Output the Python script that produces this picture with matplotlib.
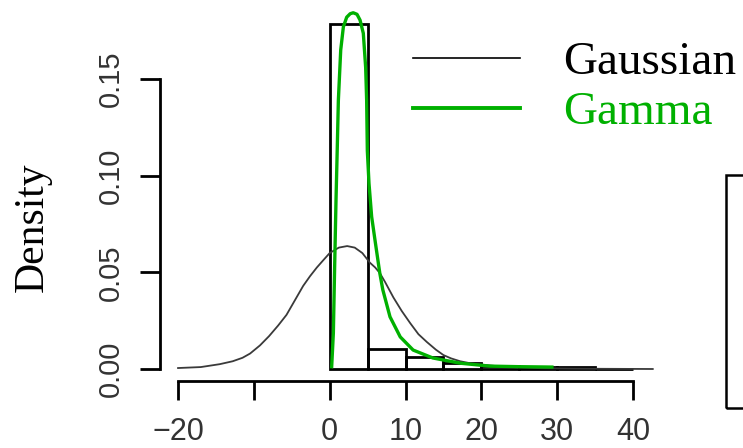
import matplotlib.pyplot as plt
from matplotlib.lines import Line2D
from matplotlib.patches import Rectangle

plt.rcParams['font.family'] = ['Liberation Sans', 'DejaVu Sans']

# histogram (bin left edges, densities)
bin_left = [0, 5, 10, 15, 20, 25, 30, 35]
bin_density = [0.1785, 0.0105, 0.0060, 0.0030, 0.0013, 0.0008, 0.0008, 0.0]

# fitted Gaussian density
gauss_x = [-20, -17, -14.5, -12.8, -11.5, -10.5, -9.2, -8, -6.8, -5.7, -4.6, -3.5, -2.6,
           -1.7, -0.8, 0, 1.2, 2.3, 3.3, 4.3, 5.3, 6.0, 6.6, 7.3, 8.4, 9.5, 10.6, 11.7,
           12.8, 14, 15, 16, 17.2, 18.5, 20.2, 22, 25, 28, 32, 36, 42.6]
gauss_y = [0.0005, 0.0010, 0.0025, 0.0040, 0.0058, 0.0080, 0.0122, 0.0170, 0.0225,
           0.0280, 0.0355, 0.0430, 0.0480, 0.0525, 0.0565, 0.0600, 0.0628, 0.0636,
           0.0628, 0.0600, 0.0550, 0.0525, 0.0497, 0.0450, 0.0370, 0.0300, 0.0238,
           0.0180, 0.0140, 0.0100, 0.0072, 0.0055, 0.0040, 0.0030, 0.0022, 0.0015,
           0.0008, 0.0004, 0.0002, 0.0001, 0.0]

# fitted Gamma density
gamma_x = [0.26, 0.48, 0.65, 0.83, 1.0, 1.14, 1.45, 1.8, 2.24, 2.7, 3.1, 3.6, 4.0, 4.43,
           4.74, 4.87, 4.96, 5.18, 5.53, 5.97, 6.6, 7.0, 7.95, 9.3, 11.0, 13.6, 17.2,
           21.1, 25.0, 29.3]
gamma_y = [0.0012, 0.0186, 0.053, 0.0874, 0.115, 0.139, 0.165, 0.177, 0.182, 0.1838,
           0.1843, 0.1835, 0.1805, 0.1737, 0.156, 0.139, 0.113, 0.096, 0.0788, 0.0667,
           0.0497, 0.041, 0.027, 0.0166, 0.0098, 0.0057, 0.003, 0.0015, 0.0012, 0.0010]

x_ticks = [-20, -10, 0, 10, 20, 30, 40]
x_labels = ['\u221220', '', '0', '10', '20', '30', '40']
y_ticks = [0.0, 0.05, 0.10, 0.15]
y_labels = ['0.00', '0.05', '0.10', '0.15']

GREEN = '#00b000'
W, H = 743, 448

fig = plt.figure(figsize=(W / 100, H / 100), dpi=100)
ax = fig.add_axes([0, 0, 1, 1])
ax.patch.set_visible(False)
ax.set_xlim(-43.48, 54.5)
ax.set_ylim(-0.04087, 0.19090)

ax.bar(bin_left, bin_density, width=5, align='edge', fill=False,
       edgecolor='black', linewidth=2)
ax.plot(gauss_x, gauss_y, color='#3a3a3a', lw=1.3, solid_joinstyle='round')
ax.plot(gamma_x, gamma_y, color=GREEN, lw=2.4, solid_joinstyle='round')

# R-style detached axes
for s in ['top', 'right']:
    ax.spines[s].set_visible(False)
ax.spines['left'].set_position(('data', -22.38))
ax.spines['left'].set_bounds(0, 0.15)
ax.spines['bottom'].set_position(('data', -0.0062))
ax.spines['bottom'].set_bounds(-20, 40)
for s in ['left', 'bottom']:
    ax.spines[s].set_linewidth(2)

ax.set_xticks(x_ticks, x_labels)
ax.set_yticks(y_ticks, y_labels)
ax.tick_params(axis='x', length=13.7, width=2, pad=12, labelsize=22, labelcolor='#333333')
ax.tick_params(axis='y', length=14.4, width=2, pad=11, labelsize=21, labelcolor='#333333',
               labelrotation=90)
for lab in ax.get_yticklabels():
    lab.set_verticalalignment('center')

ax.set_ylabel('Density', fontsize=30, family='Liberation Serif')
ax.yaxis.set_label_coords(52 / W, 1 - 227 / H)

handles = [Line2D([], [], color='black', lw=1.2),
           Line2D([], [], color=GREEN, lw=2.8)]
ax.legend(handles, ['Gaussian', 'Gamma'], loc='upper left',
          bbox_to_anchor=(413 / W, 1 - 41 / H), frameon=False,
          prop={'family': 'Liberation Serif', 'size': 34},
          handlelength=2.27, handletextpad=0.91, labelspacing=0.15,
          borderpad=0, borderaxespad=0, labelcolor='linecolor')

# edge of the neighbouring panel, cut off at the right
fig.add_artist(Rectangle((726 / W, 40 / H), 0.2, 233 / H, transform=fig.transFigure,
                         fill=False, lw=1.8, edgecolor='black'))

fig.savefig('out.png', dpi=100)
